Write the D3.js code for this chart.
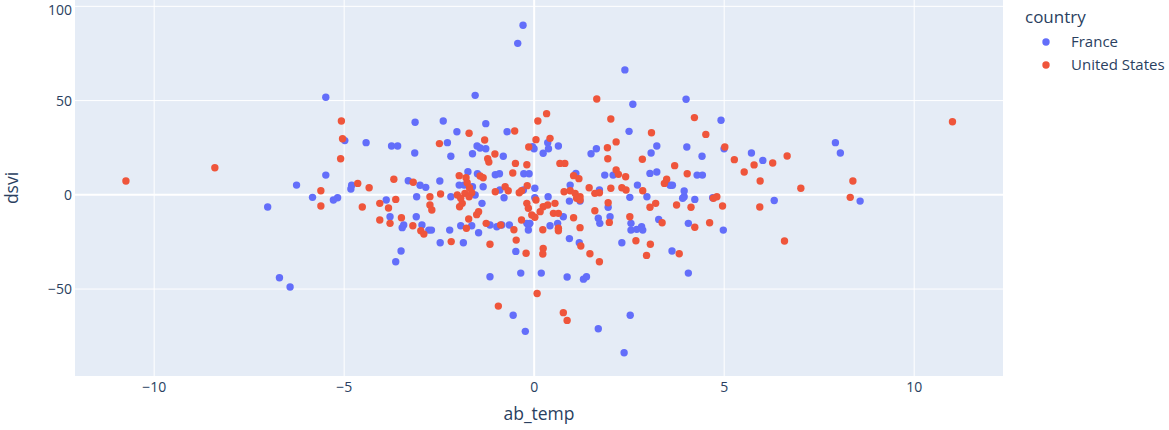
<!DOCTYPE html>
<html>
<head>
<meta charset="utf-8">
<script src="https://cdn.jsdelivr.net/npm/d3@7"></script>
<style>
  body { margin: 0; background: white; }
  svg { display: block; font-family: "Open Sans", verdana, arial, sans-serif; }
</style>
</head>
<body>
<svg id="chart"></svg>
<script>
// series names and colours (plotly default palette)
const countries = ["France", "United States"];
const countryColors = ["#636efa", "#EF553B"];

// [ab_temp, dsvi]
const franceData = [
  [-6.24, 4.9], [-7.0, -6.7], [-6.69, -44.3], [-6.41, -49.2], [-5.47, 51.5], [-4.97, 28.5], [-4.41, 27.4],
  [-5.47, 10.2], [-5.82, -1.6], [-5.16, -1.8], [-5.27, -3.0], [-4.79, 4.8], [-4.81, 2.8], [-3.88, -3.0],
  [-3.74, 25.6], [-3.58, 25.6], [-3.12, 38.2], [-3.13, 21.9], [-2.38, 38.9], [-2.02, 33.2], [-2.27, 27.4],
  [-2.18, 20.2], [-1.26, 37.5], [-1.49, 25.6], [-1.41, 24.6], [-1.26, 24.2], [-1.61, 21.5], [-0.8, 20.2],
  [-0.7, 33.2], [-0.03, 25.3], [0.01, 24.2], [0.25, 21.8], [0.37, 27.4], [0.39, 24.2], [0.65, 25.6],
  [-0.28, 89.7], [-0.42, 80.1], [-1.54, 52.5], [-1.73, 12.0], [-1.48, 10.9], [-1.01, 10.4], [-0.9, 10.9],
  [-0.26, 10.9], [-0.12, 10.9], [0.03, 3.2], [-0.78, -1.8], [-0.27, 2.3], [-2.47, 7.1], [-3.3, 7.2],
  [-2.99, 4.8], [-2.84, 3.7], [-3.08, -1.3], [-2.18, -1.3], [-1.96, 4.9], [-1.83, 4.9], [-1.61, 4.0],
  [-1.54, -0.4], [2.4, 66.0], [2.61, 47.8], [4.01, 50.4], [4.93, 39.3], [2.51, 33.4], [1.65, 24.2],
  [1.51, 21.5], [3.24, 25.6], [3.09, 21.9], [4.03, 25.1], [4.43, 20.2], [5.01, 24.2], [5.73, 21.9],
  [6.03, 18.0], [6.33, -3.3], [1.11, 11.1], [0.96, 4.9], [1.87, 10.2], [2.09, 10.2], [2.73, 4.9],
  [1.73, 2.3], [3.06, 11.1], [3.24, 11.8], [3.59, 4.8], [3.65, 4.8], [4.3, 10.2], [4.44, 10.2],
  [3.96, 1.8], [4.71, -1.8], [2.98, -1.3], [2.53, -1.6], [3.96, -1.3], [4.24, -2.7], [0.38, -1.3],
  [0.03, -1.8], [7.94, 27.4], [8.07, 21.9], [8.59, -3.6], [-0.89, 2.3], [0.78, -11.9], [0.94, -3.6],
  [1.96, -6.9], [2.01, -11.9], [1.7, -12.7], [1.74, -15.4], [3.29, -13.3], [3.92, -2.1], [4.07, -15.4],
  [4.99, -19.0], [-0.64, -16.3], [-0.18, -15.4], [-0.14, -16.3], [-0.1, -15.4], [-0.14, -19.0], [0.43, -16.7],
  [0.63, -15.4], [0.94, -23.5], [1.2, -25.7], [2.32, -25.7], [2.56, -15.4], [2.56, -19.0], [2.71, -18.6],
  [2.84, -17.2], [2.87, -19.0], [3.64, -30.1], [4.07, -41.8], [-0.47, -30.3], [-0.34, -41.8], [0.2, -41.8],
  [-0.54, -64.2], [-0.22, -72.7], [0.88, -43.9], [1.31, -45.0], [1.39, -43.7], [1.7, -71.3], [2.38, -84.1],
  [2.54, -64.2], [-3.78, -11.9], [-3.46, -17.7], [-3.42, -16.3], [-3.09, -11.9], [-2.94, -16.3], [-2.76, -19.0],
  [-2.69, -19.0], [-2.46, -25.7], [-1.85, -25.7], [-2.21, -19.0], [-1.92, -16.7], [-1.63, -16.7], [-1.45, -20.4],
  [-1.36, -4.8], [-1.15, -16.3], [-0.97, -17.2], [-3.49, -30.1], [-3.63, -35.8], [-1.15, -43.7], [-1.33, 4.0],
  [-0.84, -16.3], [1.22, -3.6]
];

const usData = [
  [-10.73, 7.1], [-8.39, 14.1], [-5.06, 38.9], [-5.03, 29.5], [-5.08, 18.9], [-5.6, 1.9], [-5.6, -6.2],
  [-2.48, 26.9], [-1.7, 32.4], [-1.29, 28.8], [-1.02, 21.4], [-1.21, 18.9], [-1.18, 17.1], [-0.5, 33.6],
  [-0.48, 16.4], [-0.18, 15.7], [-0.13, 25.1], [0.11, 38.9], [0.34, 42.8], [0.06, 29.0], [0.43, 29.7],
  [-1.96, 9.9], [-1.78, 8.8], [-1.41, 9.7], [-1.33, 8.8], [-0.55, 11.3], [-0.17, 4.6], [-1.01, 1.4],
  [-0.75, 4.0], [-0.67, 1.9], [-0.38, 0.8], [-0.32, 1.9], [-2.45, 0.2], [-3.17, 6.4], [-3.68, 8.0],
  [-4.63, 5.8], [-4.33, 3.5], [-3.63, -2.7], [-2.73, -1.3], [-2.01, -0.4], [-1.81, 0.5], [-1.7, -1.3],
  [-1.63, 0.8], [-1.75, 6.2], [1.66, 50.6], [4.23, 40.7], [2.03, 40.0], [3.1, 32.7], [2.17, 27.8],
  [1.94, 24.7], [1.95, 18.9], [2.86, 18.6], [3.71, 15.2], [4.53, 31.8], [5.03, 25.1], [5.28, 18.4],
  [5.8, 15.6], [5.54, 11.8], [5.96, 7.1], [6.29, 16.6], [6.67, 20.3], [7.03, 3.2], [0.69, 16.4],
  [0.82, 16.4], [1.05, 9.9], [1.19, 8.3], [2.17, 12.9], [2.23, 10.6], [2.42, 9.3], [2.03, 3.2],
  [2.32, 3.5], [2.43, 2.3], [2.87, 1.9], [1.46, 3.5], [1.73, 0.8], [1.61, 0.5], [0.8, 1.4],
  [0.96, 1.9], [1.09, 0.5], [1.22, -1.3], [3.44, 5.8], [3.5, 8.0], [4.04, 10.9], [4.82, -1.3],
  [11.02, 38.5], [8.4, 7.1], [8.33, -1.6], [5.95, -6.7], [6.6, -24.8], [-4.51, -6.7], [-4.05, -4.8],
  [-3.82, -7.3], [-4.05, -13.6], [-3.78, -15.4], [-3.48, -12.4], [-3.18, -16.7], [-2.97, -19.3], [-2.89, -21.1],
  [-2.17, -25.1], [-1.77, -18.0], [-1.71, -13.1], [-1.5, -10.8], [-1.45, -9.2], [-1.25, -15.4], [-0.87, -16.3],
  [-0.52, -18.8], [0.24, -18.8], [-1.15, -26.5], [-0.46, -24.3], [-0.2, -31.3], [0.25, -28.7], [0.24, -31.7],
  [0.09, -52.6], [-0.93, -59.3], [-2.73, -5.7], [-2.68, -8.3], [-1.88, -4.8], [-1.95, -6.6], [-1.92, -2.1],
  [-0.18, -4.8], [-0.14, -7.4], [-0.05, -11.0], [0.03, -12.2], [0.25, -6.6], [0.37, -5.7], [0.17, -9.2],
  [-0.32, -13.6], [0.56, -4.8], [0.52, -10.1], [0.65, -10.1], [1.13, -2.1], [1.22, -3.0], [1.96, -4.5],
  [1.99, -14.9], [1.61, -8.7], [3.06, -6.9], [3.21, -4.8], [3.38, -15.1], [3.76, -5.7], [4.14, -6.9],
  [4.24, -17.5], [4.63, -15.1], [4.73, -2.1], [4.97, -6.2], [0.65, -18.0], [0.65, -19.3], [1.22, -17.7],
  [1.05, -12.4], [1.24, -27.4], [1.48, -31.5], [1.73, -35.8], [2.69, -24.6], [3.07, -26.5], [2.97, -32.4],
  [3.83, -31.5], [0.78, -62.8], [0.88, -66.9], [-1.69, 3.5], [2.53, -11.9], [0.06, -3.0]
];

const xTicks = [-10, -5, 0, 5, 10];
const yTicks = [-50, 0, 50, 100];
const xTitle = "ab_temp";
const yTitle = "dsvi";
const legendTitle = "country";

const width = 1169;
const height = 430;
const plot = { left: 75, right: 1003, top: 0, bottom: 376 };
const textColor = "#2a3f5f";

const svg = d3.select("#chart")
    .attr("width", width)
    .attr("height", height);

const x = d3.scaleLinear()
    .domain([-12.07, 12.35])
    .range([plot.left, plot.right]);

const y = d3.scaleLinear()
    .domain([-96.4, 103.1])
    .range([plot.bottom, plot.top]);

// plot background
svg.append("rect")
    .attr("x", plot.left)
    .attr("y", plot.top)
    .attr("width", plot.right - plot.left)
    .attr("height", plot.bottom - plot.top)
    .attr("fill", "#E5ECF6");

// grid lines, zero lines a bit thicker
const gridX = d3.axisBottom(x)
    .tickValues(xTicks)
    .tickSize(-(plot.bottom - plot.top))
    .tickFormat("");
const gx = svg.append("g")
    .attr("transform", `translate(0,${plot.bottom})`)
    .call(gridX);
gx.select(".domain").remove();
gx.selectAll("line")
    .attr("stroke", "white")
    .attr("stroke-width", d => d === 0 ? 2 : 1);

const gridY = d3.axisLeft(y)
    .tickValues(yTicks)
    .tickSize(-(plot.right - plot.left))
    .tickFormat("");
const gy = svg.append("g")
    .attr("transform", `translate(${plot.left},0)`)
    .call(gridY);
gy.select(".domain").remove();
gy.selectAll("line")
    .attr("stroke", "white")
    .attr("stroke-width", d => d === 0 ? 2 : 1);

// tick labels
const xAxis = d3.axisBottom(x)
    .tickValues(xTicks)
    .tickSize(0)
    .tickPadding(0)
    .tickFormat(d3.format("d"));
const xAxisG = svg.append("g")
    .attr("transform", `translate(0,${plot.bottom})`)
    .call(xAxis);
xAxisG.select(".domain").remove();
xAxisG.selectAll("text")
    .attr("y", 16)
    .attr("dy", null)
    .style("font-size", "14px")
    .style("font-family", "'Open Sans', sans-serif")
    .attr("fill", textColor);

const yAxis = d3.axisLeft(y)
    .tickValues(yTicks)
    .tickSize(0)
    .tickPadding(3)
    .tickFormat(d3.format("d"));
const yAxisG = svg.append("g")
    .attr("transform", `translate(${plot.left},0)`)
    .call(yAxis);
yAxisG.select(".domain").remove();
// top label sits right at the edge, nudge it down a little
yAxisG.selectAll("text")
    .attr("dy", d => d === 100 ? "0.6em" : "0.36em")
    .style("font-size", "14px")
    .style("font-family", "'Open Sans', sans-serif")
    .attr("fill", textColor);

// axis titles
svg.append("text")
    .attr("x", (plot.left + plot.right) / 2)
    .attr("y", 420)
    .attr("text-anchor", "middle")
    .style("font-size", "17.5px")
    .attr("fill", textColor)
    .text(xTitle);

svg.append("text")
    .attr("transform", `translate(18,${(plot.top + plot.bottom) / 2}) rotate(-90)`)
    .attr("text-anchor", "middle")
    .style("font-size", "17.5px")
    .attr("fill", textColor)
    .text(yTitle);

// points
const series = [franceData, usData];
svg.append("clipPath").attr("id", "plot-clip")
    .append("rect")
    .attr("x", plot.left).attr("y", plot.top)
    .attr("width", plot.right - plot.left)
    .attr("height", plot.bottom - plot.top);

const pts = svg.append("g").attr("clip-path", "url(#plot-clip)");
series.forEach((data, i) => {
    pts.append("g")
        .selectAll("circle")
        .data(data)
        .enter()
        .append("circle")
        .attr("cx", d => x(d[0]))
        .attr("cy", d => y(d[1]))
        .attr("r", 3.7)
        .attr("fill", countryColors[i]);
});

// legend
const legend = svg.append("g").attr("transform", "translate(1025,0)");
legend.append("text")
    .attr("x", 0)
    .attr("y", 23)
    .style("font-size", "17px")
    .attr("fill", textColor)
    .text(legendTitle);

countries.forEach((name, i) => {
    const row = legend.append("g")
        .attr("transform", `translate(0,${42 + i * 23})`);
    row.append("circle")
        .attr("cx", 21)
        .attr("cy", 0)
        .attr("r", 3.7)
        .attr("fill", countryColors[i]);
    row.append("text")
        .attr("x", 46)
        .attr("y", 5.3)
        .style("font-size", "15px")
        .attr("fill", textColor)
        .text(name);
});
</script>
</body>
</html>
